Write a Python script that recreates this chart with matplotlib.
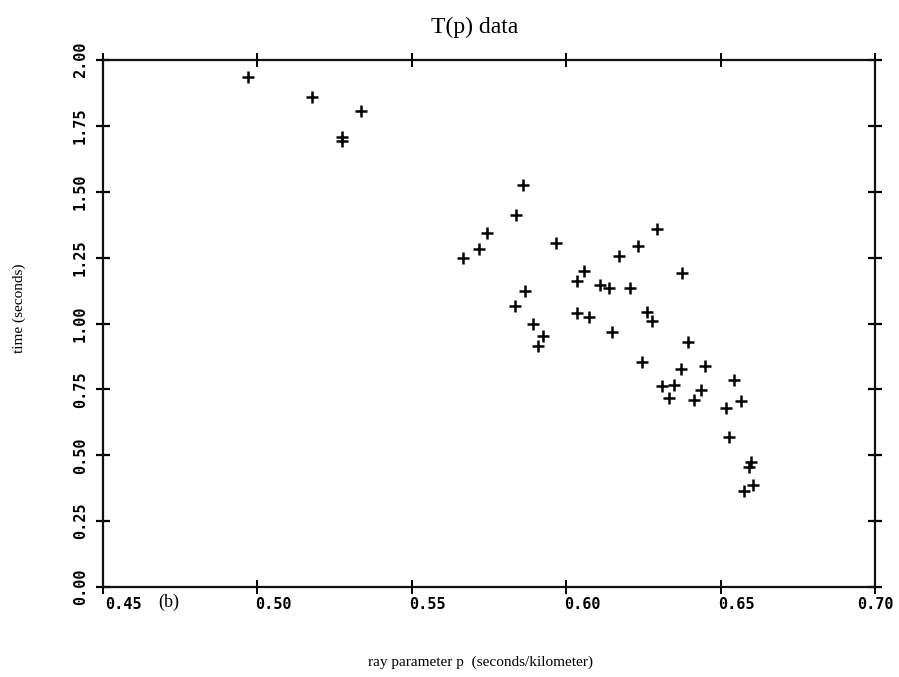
import matplotlib
matplotlib.use("Agg")
import matplotlib.pyplot as plt
import matplotlib.transforms as mtransforms

# ray parameter p (s/km) and time (s)
p_values = [0.4970, 0.5177, 0.5273, 0.5273, 0.5337,
            0.5860, 0.5838, 0.5744, 0.5718, 0.5666, 0.5966,
            0.6293, 0.6231, 0.6172, 0.6057, 0.6034, 0.6111, 0.6139, 0.6207, 0.6375,
            0.5868, 0.5834, 0.5891, 0.5924, 0.5910,
            0.6034, 0.6073, 0.6147, 0.6262, 0.6278, 0.6245,
            0.6396, 0.6371, 0.6450, 0.6311, 0.6350, 0.6333, 0.6415, 0.6438,
            0.6542, 0.6566, 0.6518, 0.6528, 0.6597, 0.6593, 0.6606, 0.6577]
t_values = [1.934, 1.860, 1.707, 1.692, 1.805,
            1.525, 1.412, 1.342, 1.281, 1.248, 1.304,
            1.359, 1.293, 1.256, 1.200, 1.160, 1.147, 1.136, 1.134, 1.190,
            1.125, 1.067, 0.999, 0.951, 0.913,
            1.039, 1.026, 0.968, 1.044, 1.008, 0.854,
            0.929, 0.829, 0.837, 0.762, 0.767, 0.717, 0.710, 0.746,
            0.784, 0.707, 0.681, 0.570, 0.476, 0.457, 0.387, 0.366]

x_ticks = [0.45, 0.50, 0.55, 0.60, 0.65, 0.70]
x_tick_labels = ["0.45", "0.50", "0.55", "0.60", "0.65", "0.70"]
y_ticks = [0.00, 0.25, 0.50, 0.75, 1.00, 1.25, 1.50, 1.75, 2.00]
y_tick_labels = ["0.00", "0.25", "0.50", "0.75", "1.00", "1.25", "1.50", "1.75", "2.00"]

fig = plt.figure(figsize=(8.99, 6.77), dpi=100)
ax = fig.add_axes([0.1146, 0.1329, 0.8587, 0.7785])

ax.plot(p_values, t_values, linestyle="none", marker="+", markersize=8,
        markeredgewidth=1.8, color="black")

ax.set_xlim(0.45, 0.70)
ax.set_ylim(0.0, 2.0)

for s in ax.spines.values():
    s.set_linewidth(1.6)
    s.set_color("#111111")

mono = "DejaVu Sans Mono"
serif = "Liberation Serif"

ax.set_xticks(x_ticks)
ax.set_xticklabels(x_tick_labels, fontfamily=mono, fontsize=11, fontweight="bold")
ax.set_yticks(y_ticks)
ax.set_yticklabels(y_tick_labels, fontfamily=mono, fontsize=11, fontweight="bold",
                   rotation=90, va="center")

ax.tick_params(axis="x", which="both", direction="inout", length=10, width=1.4,
               top=True, bottom=True, pad=2)
ax.tick_params(axis="y", which="both", direction="inout", length=10, width=1.6,
               left=True, right=True, pad=6)

# x tick labels sit slightly right of the ticks in the original
shifts = [20, 16, 16, 16, 16, 0]
for lab, sh in zip(ax.get_xticklabels(), shifts):
    offset = mtransforms.ScaledTranslation(sh / 100, 0, fig.dpi_scale_trans)
    lab.set_transform(lab.get_transform() + offset)

fig.text(0.528, 0.960, "T(p) data", ha="center", va="center",
         fontfamily=serif, fontsize=17)
fig.text(0.534, 0.022, "ray parameter p  (seconds/kilometer)", ha="center",
         va="center", fontfamily=serif, fontsize=11)
fig.text(0.021, 0.545, "time (seconds)", ha="center", va="center",
         rotation=90, fontfamily=serif, fontsize=11)
fig.text(0.188, 0.110, "(b)", ha="center", va="center",
         fontfamily=serif, fontsize=13)

fig.savefig("out.png", dpi=100, facecolor="white")
